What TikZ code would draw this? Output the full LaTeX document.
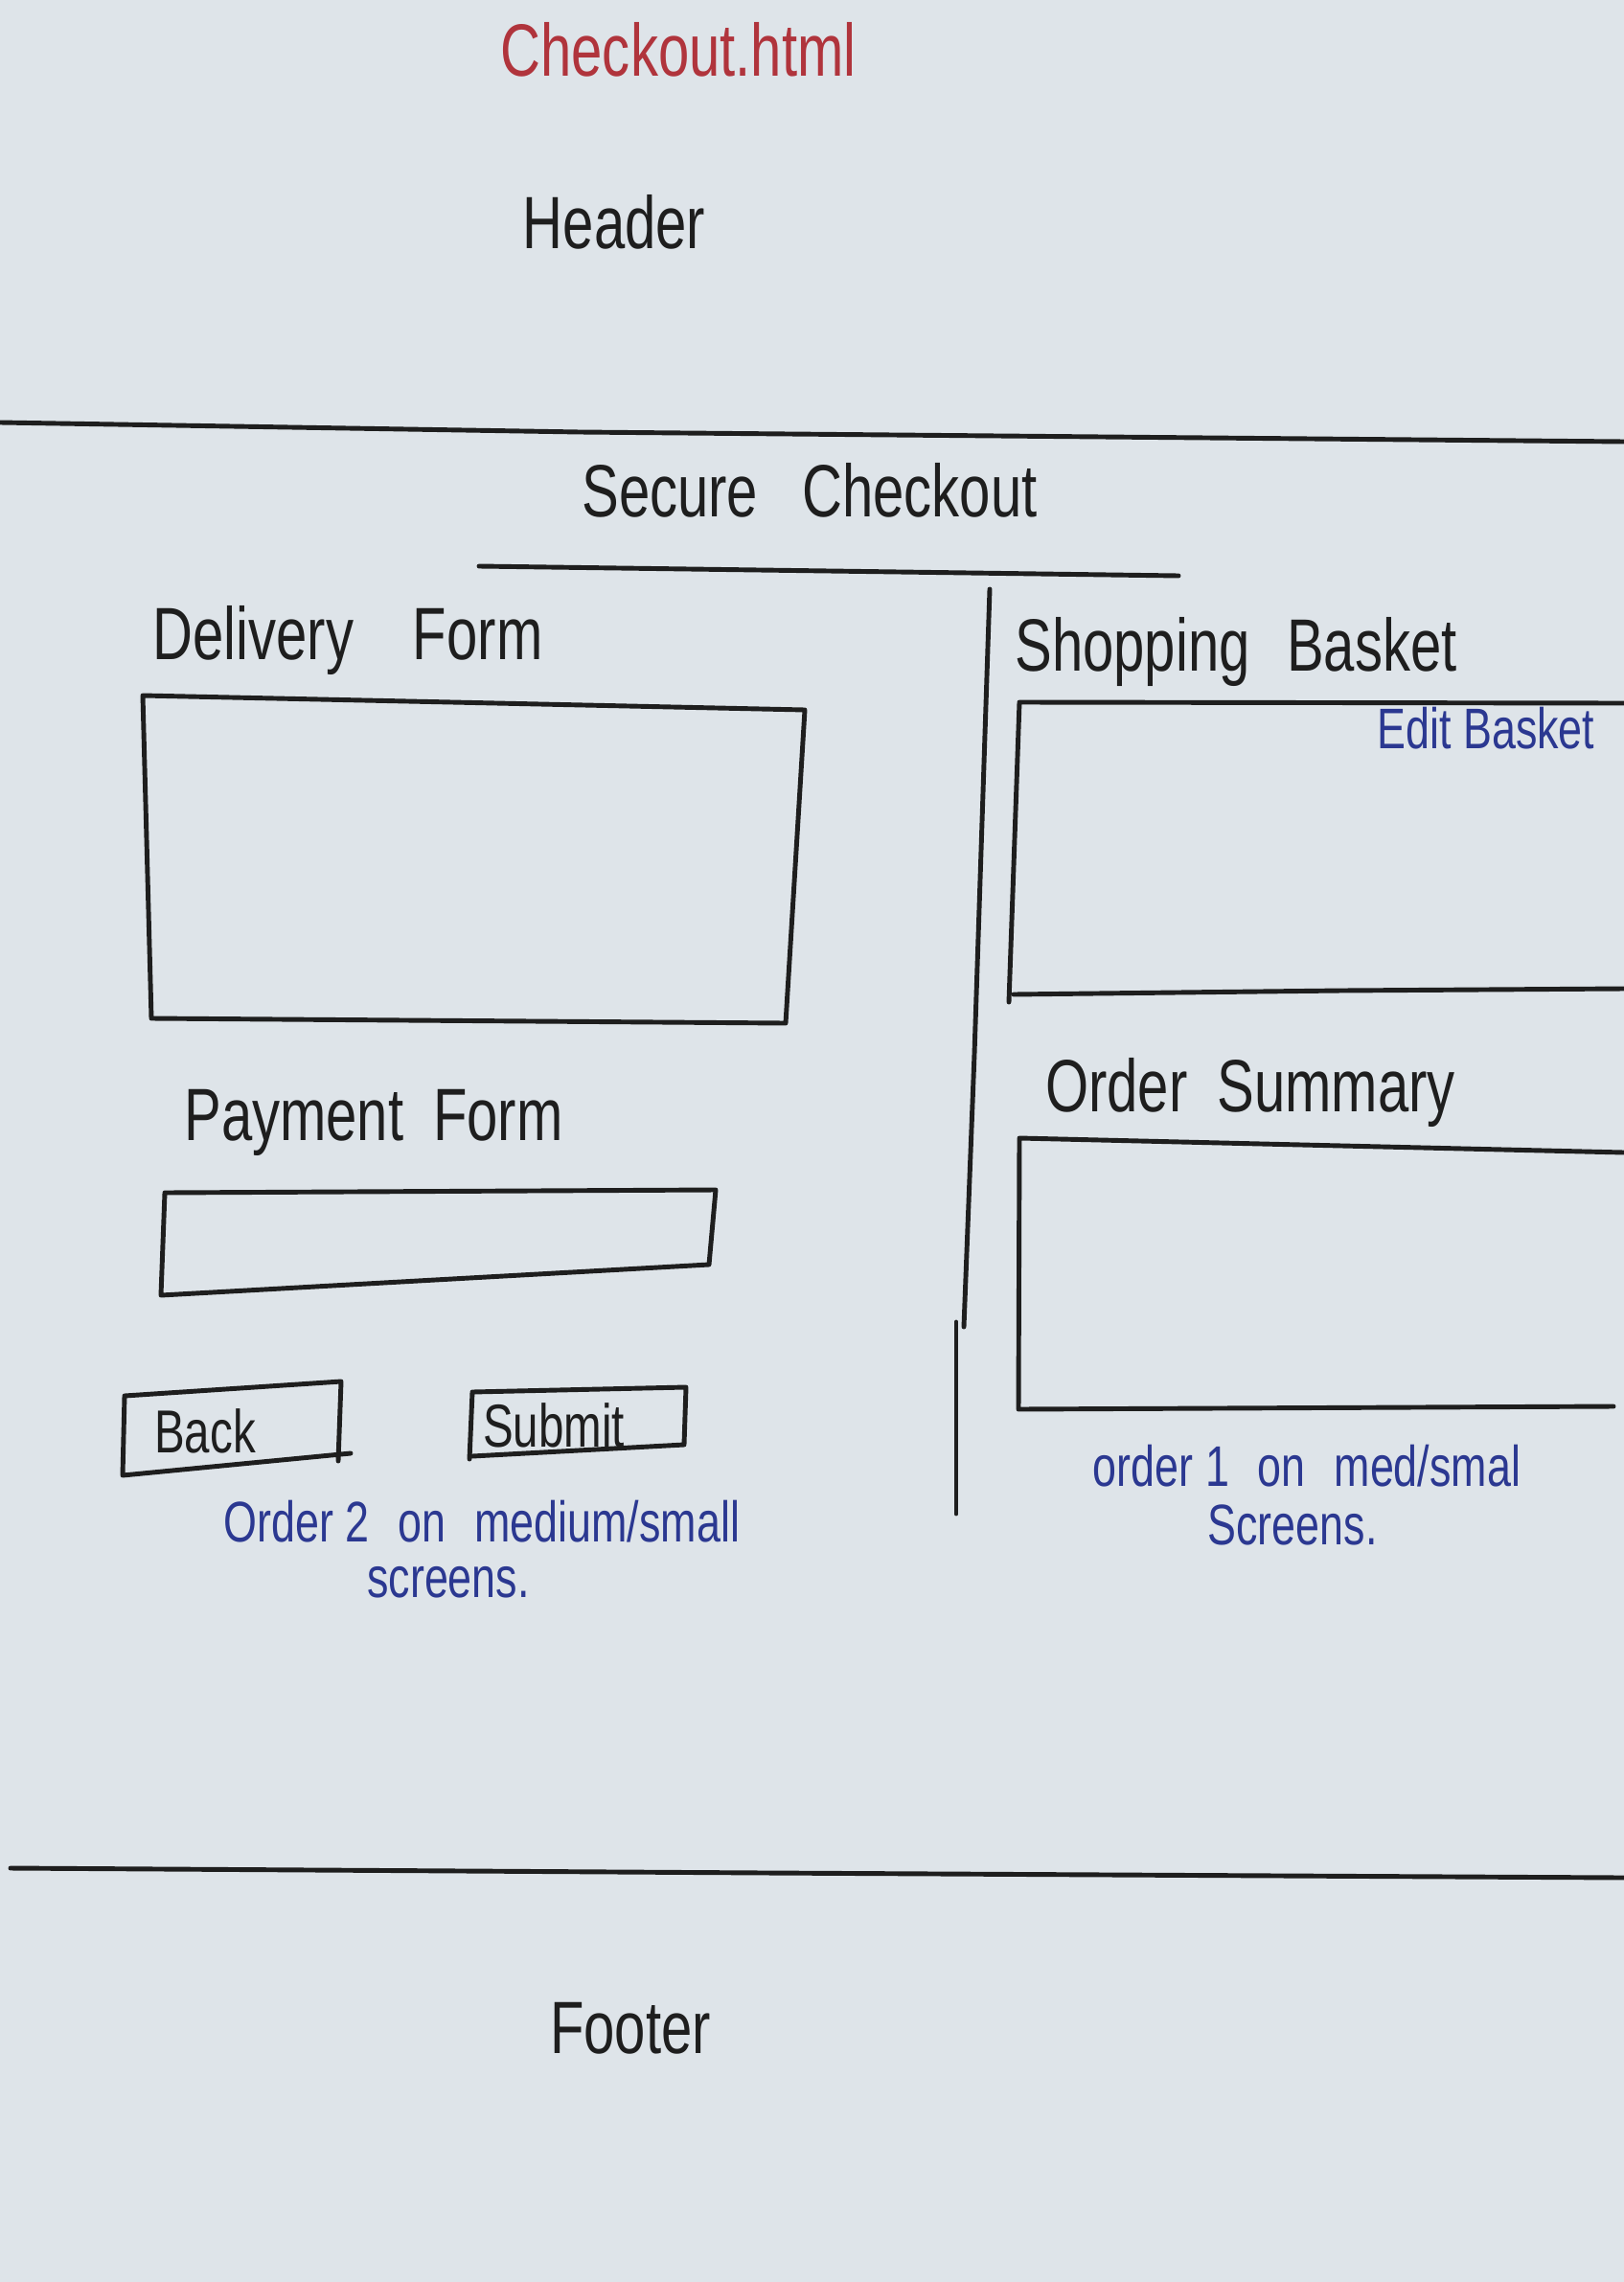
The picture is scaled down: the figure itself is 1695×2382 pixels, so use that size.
\documentclass[tikz,border=0pt]{standalone}
\usepackage{fontspec}
\setmainfont[FakeStretch=0.75]{Liberation Sans}
\definecolor{paper}{HTML}{DEE4E9}
\definecolor{ink}{HTML}{1E1E1E}
\definecolor{redpen}{HTML}{B0343C}
\definecolor{bluepen}{HTML}{2B3891}
\begin{document}
\begin{tikzpicture}[x=0.01cm,y=-0.01cm,
  pen/.style={draw=ink, line width=1.4pt, line join=round, line cap=round},
  heading/.style={text=ink, font=\fontsize{22}{26}\selectfont, inner sep=0pt},
  btnlabel/.style={text=ink, font=\fontsize{18}{22}\selectfont, inner sep=0pt},
  note/.style={text=bluepen, font=\fontsize{17}{20}\selectfont, inner sep=0pt},
  filename/.style={text=redpen, font=\fontsize{22}{26}\selectfont, inner sep=0pt}]

% paper sheet
\fill[paper] (0,0) rectangle (1695,2382);
\useasboundingbox (0,0) rectangle (1695,2382);

% header band
\node[filename] (file) at (708,52) {Checkout.html};
\node[heading] (header) at (641,232) {Header};
\draw[pen] (0,441) -- (605,451) -- (1695,461);

% page title
\node[heading] (secure) at (845,512) {Secure\hspace{0.6em}Checkout};
\draw[pen] (500,591) -- (1230,601);

% column divider
\draw[pen] (1033,615) -- (1017,1100) -- (1006,1385);
\draw[pen] (998,1380) -- (998,1580);

% left column: delivery form
\node[heading] (delivery) at (363,668) {Delivery\hspace{0.8em}Form};
\draw[pen] (149,726) -- (840,741) -- (820,1068) -- (158,1063) -- cycle;

% left column: payment form
\node[heading] (payment) at (390,1172) {Payment\hspace{0.4em}Form};
\draw[pen] (172,1245) -- (747,1242) -- (740,1320) -- (168,1352) -- cycle;

% buttons
\draw[pen] (366,1517) -- (128,1540) -- (130,1457) -- (356,1442) -- (353,1525);
\node[btnlabel] (back) at (214,1494) {Back};
\draw[pen] (490,1523) -- (493,1453) -- (716,1448) -- (714,1508) -- (493,1520);
\node[btnlabel] (submit) at (578,1488) {Submit};

\node[note] (noteL1) at (503,1588) {Order 2\hspace{0.5em}on\hspace{0.5em}medium/small};
\node[note] (noteL2) at (468,1652) {screens.};

% right column: shopping basket
\node[heading] (basket) at (1290,680) {Shopping\hspace{0.5em}Basket};
\draw[pen] (1695,734) -- (1064,733) -- (1053,1046);
\draw[pen] (1058,1038) -- (1400,1034) -- (1695,1032);
\node[note] (edit) at (1551,760) {Edit Basket};

% right column: order summary
\node[heading] (summary) at (1305,1140) {Order\hspace{0.4em}Summary};
\draw[pen] (1695,1203) -- (1064,1188) -- (1063,1471) -- (1684,1468);

\node[note] (noteR1) at (1364,1530) {order 1\hspace{0.5em}on\hspace{0.5em}med/smal};
\node[note] (noteR2) at (1349,1592) {Screens.};

% footer band
\draw[pen] (11,1950) -- (800,1955) -- (1695,1960);
\node[heading] (footer) at (658,2117) {Footer};

\end{tikzpicture}
\end{document}
